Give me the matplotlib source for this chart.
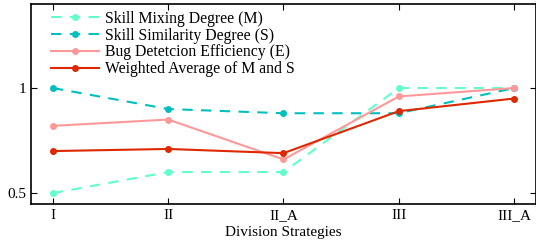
import numpy as np
import matplotlib.pyplot as plt

plt.rcParams['font.family'] = ['Liberation Serif', 'DejaVu Serif']

# data
strategies = ['I', 'II', 'II_A', 'III', 'III_A']
mixing = [0.5, 0.6, 0.6, 1.0, 1.0]
similarity = [1.0, 0.9, 0.88, 0.88, 1.0]
efficiency = [0.82, 0.85, 0.66, 0.96, 1.0]
weighted = [0.70, 0.71, 0.69, 0.89, 0.95]

x = np.arange(len(strategies))

fig = plt.figure(figsize=(5.36, 2.46), dpi=100)
ax = fig.add_axes([31/536, 1 - 204/246, 1 - 31/536, 200/246])

ax.plot(x, mixing, '--', color='#60ffcc', marker='o', ms=4, lw=1.5,
        dashes=(5, 4), label='Skill Mixing Degree (M)')
ax.plot(x, similarity, '--', color='#00bfbf', marker='o', ms=4, lw=1.5,
        dashes=(5, 4), label='Skill Similarity Degree (S)')
ax.plot(x, efficiency, '-', color='#ff9999', marker='o', ms=4, lw=1.5,
        label='Bug Detetcion Efficiency (E)')
ax.plot(x, weighted, '-', color='#dd2800', marker='o', ms=4, lw=1.5,
        label='Weighted Average of M and S')

ax.set_xlim(-0.19, 4.19)
ax.set_ylim(0.448, 1.4)
ax.set_xticks(x)
ax.set_xticklabels(strategies)
ax.set_yticks([0.5, 1])
ax.set_yticklabels(['0.5', '1'])
ax.tick_params(direction='in', top=True, right=True, labelsize=11, length=4)
for s in ax.spines.values():
    s.set_linewidth(1.2)
ax.set_xlabel('Division Strategies', fontsize=11, labelpad=3)

ax.legend(loc='upper left', frameon=False, fontsize=11.3, handlelength=3.05,
          handletextpad=0.35, borderaxespad=0.0, borderpad=0.2,
          labelspacing=0.05, bbox_to_anchor=(0.034, 0.982))

fig.savefig('out.png', dpi=100)
